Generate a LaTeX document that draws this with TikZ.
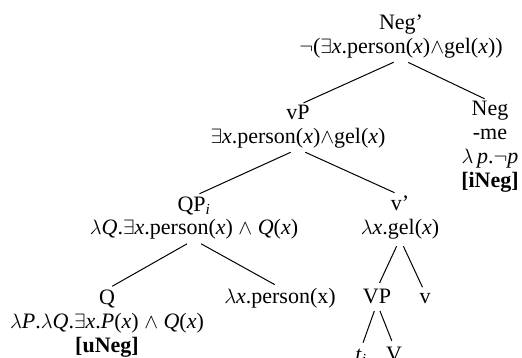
\documentclass[tikz,border=0pt]{standalone}
\usepackage{fontspec}
\setmainfont{Liberation Serif}

\newcommand{\vi}[1]{\textit{#1}}

\begin{document}
\begin{tikzpicture}[x=1pt, y=-1pt,
    label/.style={anchor=base, align=center, inner sep=0pt, font=\fontsize{22}{24}\selectfont},
    branch/.style={line width=1pt, shorten <=8pt, shorten >=6pt}]
    \useasboundingbox (0, 0) rectangle (522, 358);

    \node[label] (negbar) at (401, 54) {Neg'\\$\neg$(\(\exists\)\vi{x}.person(\vi{x})\(\wedge\)gel(\vi{x}))};
    \node[label] (vp) at (298, 144) {vP\\\(\exists\)\vi{x}.person(\vi{x})\(\wedge\)gel(\vi{x})};
    \node[label] (neg) at (490, 188) {Neg\\-me\\\(\lambda\)\,\vi{p}.\(\neg\)\vi{p}\\\textbf{[iNeg]}};

    \node[label] (qp) at (194, 235) {QP\textsubscript{\vi{i}}\\\(\lambda\)\vi{Q}.\(\exists\)\vi{x}.person(\vi{x}) \(\wedge\) \vi{Q}(\vi{x})};
    \node[label] (vbar) at (400, 234) {v'\\\(\lambda\)\vi{x}.gel(\vi{x})};

    \node[label] (q) at (107, 352) {Q\\\(\lambda\)\vi{P}.\(\lambda\)\vi{Q}.\(\exists\)\vi{x}.\vi{P}(\vi{x}) \(\wedge\) \vi{Q}(\vi{x})\\\textbf{[uNeg]}};
    \node[label] (restr) at (280, 303) {\(\lambda\)\vi{x}.person(x)};

    \node[label] (vpbig) at (377, 303) {VP};
    \node[label] (vsmall) at (425, 303) {v};
    \node[label] (trace) at (361, 361) {\vi{t}\textsubscript{\vi{i}}};
    \node[label] (verb) at (394, 361) {V};

    \draw[branch] (negbar.south) -- (vp.north);
    \draw[branch] (negbar.south) -- (neg.north);
    \draw[branch] (vp.south) -- (qp.north);
    \draw[branch] (vp.south) -- (vbar.north);
    \draw[branch] (qp.south) -- (q.north);
    \draw[branch] (qp.south) -- (restr.north);
    \draw[branch] (vbar.south) -- (vpbig.north);
    \draw[branch] (vbar.south) -- (vsmall.north);
    \draw[branch] (vpbig.south) -- (trace.north);
    \draw[branch] (vpbig.south) -- (verb.north);
\end{tikzpicture}
\end{document}
